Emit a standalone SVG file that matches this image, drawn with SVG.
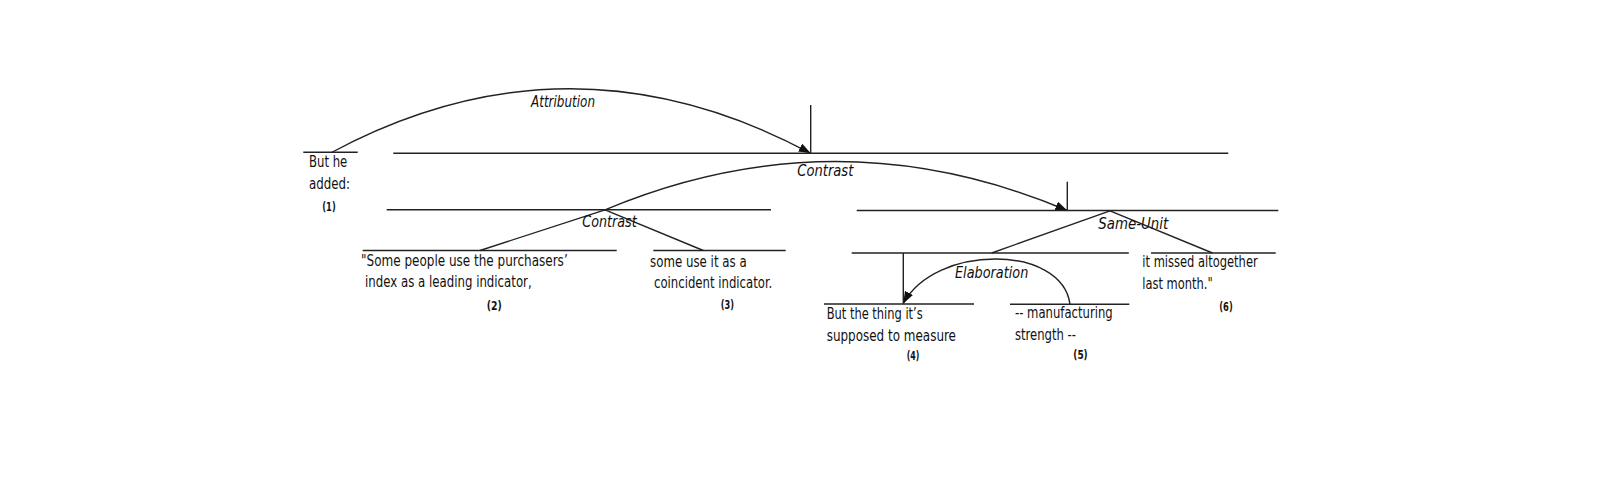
<svg xmlns="http://www.w3.org/2000/svg" width="1597" height="495" viewBox="0 0 1597 495">
<style>
.bg{fill:#ffffff}
.ln{stroke:#222222;stroke-width:1.4;fill:none}
.arc{stroke:#222222;stroke-width:1.4;fill:none;marker-end:url(#ah)}
.t{font-family:"DejaVu Sans Condensed","DejaVu Sans",sans-serif;font-stretch:condensed;font-size:15px;fill:#111111}
.rel{font-family:"DejaVu Sans Condensed","DejaVu Sans",sans-serif;font-stretch:condensed;font-size:15px;font-style:italic;fill:#111111}
.n{font-family:"DejaVu Sans Condensed","DejaVu Sans",sans-serif;font-stretch:condensed;font-size:12px;font-weight:bold;fill:#111111}
</style>
<defs>
<marker id="ah" markerUnits="userSpaceOnUse" markerWidth="14" markerHeight="10" refX="12" refY="4.5" orient="auto">
<path d="M0,0 L12,4.5 L0,9 z" fill="#111111"/>
</marker>
</defs>
<rect class="bg" x="0" y="0" width="1597" height="495"/>

<g id="connectors">
<path class="arc" d="M331.5,152.5 Q570,24.7 810.7,153.3"/>
<path class="arc" d="M605,209.8 Q836,113 1067.3,210.5"/>
<path class="arc" d="M1070,304.3 C1062,244 935,244 903.3,303.5"/>
<line class="ln" x1="605" y1="209.8" x2="480" y2="250.5"/>
<line class="ln" x1="605" y1="209.8" x2="703.3" y2="250.5"/>
<line class="ln" x1="1110" y1="210.8" x2="991.7" y2="253"/>
<line class="ln" x1="1110" y1="210.8" x2="1212.5" y2="253"/>
<line class="ln" x1="810.7" y1="105" x2="810.7" y2="153.3"/>
<line class="ln" x1="1067.3" y1="181.7" x2="1067.3" y2="210.5"/>
<line class="ln" x1="903.3" y1="253" x2="903.3" y2="303.5"/>
<text class="rel" x="531" y="107" textLength="64" lengthAdjust="spacingAndGlyphs">Attribution</text>
<text class="rel" x="797.3" y="176" textLength="56" lengthAdjust="spacingAndGlyphs">Contrast</text>
<text class="rel" x="582.3" y="227" textLength="54.4" lengthAdjust="spacingAndGlyphs">Contrast</text>
<text class="rel" x="1098.3" y="229.3" textLength="70" lengthAdjust="spacingAndGlyphs">Same-Unit</text>
<text class="rel" x="955" y="277.5" textLength="73.3" lengthAdjust="spacingAndGlyphs">Elaboration</text>
</g>

<g id="span-1-6">
<line class="ln" x1="393.3" y1="153.3" x2="1228.3" y2="153.3"/>
</g>
<g id="span-2-3">
<line class="ln" x1="386.7" y1="209.8" x2="771" y2="209.8"/>
</g>
<g id="span-4-6">
<line class="ln" x1="856.7" y1="210.5" x2="1278.3" y2="210.5"/>
</g>
<g id="span-4-5">
<line class="ln" x1="851.7" y1="253" x2="1128.8" y2="253"/>
</g>

<g id="edu-1">
<line class="ln" x1="303.3" y1="152.3" x2="357.7" y2="152.3"/>
<text class="t" x="309" y="166.5" textLength="38.3" lengthAdjust="spacingAndGlyphs">But he</text>
<text class="t" x="309" y="188.5" textLength="41" lengthAdjust="spacingAndGlyphs">added:</text>
<text class="n" x="322.3" y="211" textLength="13.4" lengthAdjust="spacingAndGlyphs">(1)</text>
</g>

<g id="edu-2">
<line class="ln" x1="362.7" y1="250.5" x2="616.7" y2="250.5"/>
<text class="t" x="361" y="265.7" textLength="206.7" lengthAdjust="spacingAndGlyphs">"Some people use the purchasers’</text>
<text class="t" x="365" y="286.7" textLength="166.7" lengthAdjust="spacingAndGlyphs">index as a leading indicator,</text>
<text class="n" x="486.7" y="310" textLength="15" lengthAdjust="spacingAndGlyphs">(2)</text>
</g>

<g id="edu-3">
<line class="ln" x1="653.3" y1="250.5" x2="785.7" y2="250.5"/>
<text class="t" x="650" y="266.5" textLength="96.7" lengthAdjust="spacingAndGlyphs">some use it as a</text>
<text class="t" x="654" y="288" textLength="118.3" lengthAdjust="spacingAndGlyphs">coincident indicator.</text>
<text class="n" x="720.7" y="309" textLength="13.3" lengthAdjust="spacingAndGlyphs">(3)</text>
</g>

<g id="edu-4">
<line class="ln" x1="824" y1="304" x2="974" y2="304"/>
<text class="t" x="826.7" y="318.5" textLength="96" lengthAdjust="spacingAndGlyphs">But the thing it’s</text>
<text class="t" x="826.7" y="341" textLength="129.3" lengthAdjust="spacingAndGlyphs">supposed to measure</text>
<text class="n" x="906.7" y="359.5" textLength="12.6" lengthAdjust="spacingAndGlyphs">(4)</text>
</g>

<g id="edu-5">
<line class="ln" x1="1010" y1="304.3" x2="1129.3" y2="304.3"/>
<text class="t" x="1015" y="318" textLength="97.7" lengthAdjust="spacingAndGlyphs">-- manufacturing</text>
<text class="t" x="1015" y="339.5" textLength="61" lengthAdjust="spacingAndGlyphs">strength --</text>
<text class="n" x="1073.3" y="359" textLength="14.4" lengthAdjust="spacingAndGlyphs">(5)</text>
</g>

<g id="edu-6">
<line class="ln" x1="1151" y1="253" x2="1275.7" y2="253"/>
<text class="t" x="1142.3" y="266.5" textLength="115.4" lengthAdjust="spacingAndGlyphs">it missed altogether</text>
<text class="t" x="1142.3" y="289" textLength="70.4" lengthAdjust="spacingAndGlyphs">last month."</text>
<text class="n" x="1219.3" y="310.5" textLength="13.4" lengthAdjust="spacingAndGlyphs">(6)</text>
</g>
</svg>
